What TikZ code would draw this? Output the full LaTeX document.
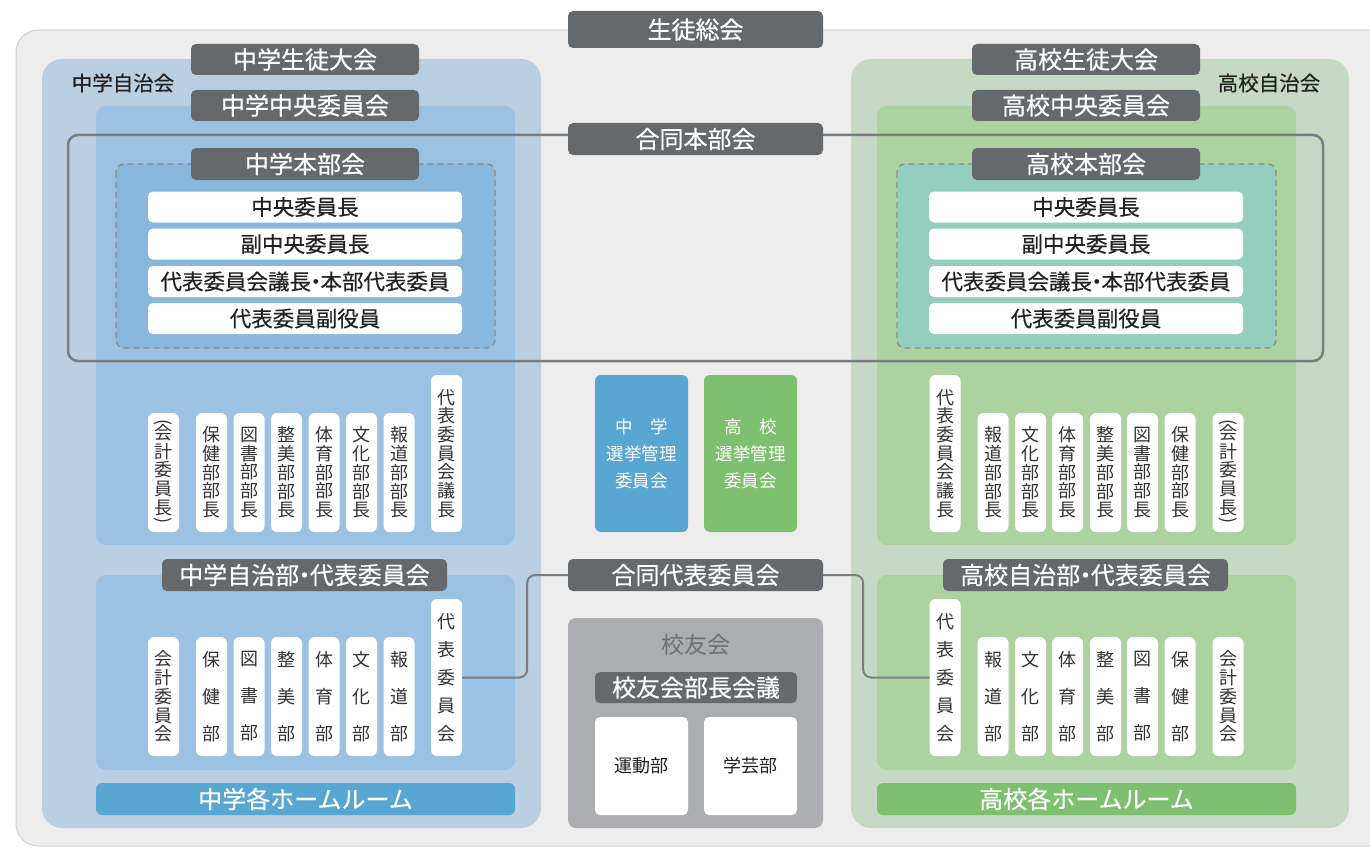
\documentclass[tikz,border=0pt]{standalone}
\usepackage{fontspec}
\usepackage{graphicx}
\newfontfamily\jp{Noto Sans CJK JP}
\newfontfamily\jpb[FakeBold=0.5]{Noto Sans CJK JP}
\definecolor{bgGray}{HTML}{EDEDED}
\definecolor{bgLine}{HTML}{D2D2D2}
\definecolor{bluOut}{HTML}{BBCFE2}
\definecolor{bluIn}{HTML}{9CC2E3}
\definecolor{bluDash}{HTML}{88B8DD}
\definecolor{bluHR}{HTML}{58A6D2}
\definecolor{grnOut}{HTML}{C6D9C4}
\definecolor{grnIn}{HTML}{ABD29F}
\definecolor{tealC}{HTML}{94CEBF}
\definecolor{grnHR}{HTML}{7EC06F}
\definecolor{lblDark}{HTML}{66696C}
\definecolor{koyuC}{HTML}{ACADB1}
\definecolor{koyuTxt}{HTML}{6E7074}
\definecolor{frameC}{HTML}{7A7E82}
\definecolor{dashC}{HTML}{8C8C8C}
\definecolor{txtDark}{HTML}{222222}
\definecolor{txtTag}{HTML}{333333}
\newcommand{\lpar}{\rotatebox[origin=c]{-90}{(}}
\newcommand{\rpar}{\rotatebox[origin=c]{-90}{)}}
\newcommand{\ndot}{\kern-0.28em・\kern-0.28em}
\tikzset{
  lbl/.style={fill=lblDark, text=white, rounded corners=5pt, inner sep=0pt, minimum height=31pt, font=\jpb\fontsize{24}{26}\selectfont},
  rowbox/.style={fill=white, text=txtDark, rounded corners=5pt, inner sep=0pt, minimum width=314pt, minimum height=31pt, font=\jpb\fontsize{21.5}{24}\selectfont},
  vtag/.style={fill=white, text=txtTag, rounded corners=6pt, inner sep=0pt, minimum width=31pt, minimum height=119pt, align=center, font=\jp\fontsize{18}{18.7}\selectfont},
  vtall/.style={vtag, minimum height=157pt},
  vsp/.style={font=\jp\fontsize{18}{37}\selectfont},
  vsp2/.style={font=\jp\fontsize{18}{28}\selectfont},
  senkyo/.style={rounded corners=6pt, inner sep=0pt, minimum width=93pt, minimum height=157pt, text=white, align=center, font=\jp\fontsize{17.5}{27}\selectfont},
  club/.style={fill=white, rounded corners=5pt, inner sep=0pt, minimum width=93pt, minimum height=98pt, text=txtDark, font=\jp\fontsize{18}{20}\selectfont},
  hr/.style={rounded corners=6pt, inner sep=0pt, minimum width=419pt, minimum height=32pt, text=white, font=\jpb\fontsize{24}{26}\selectfont},
  jichi/.style={text=txtDark, inner sep=0pt, font=\jpb\fontsize{20.5}{24}\selectfont},
  conn/.style={draw=frameC, line width=2pt, rounded corners=8pt},
}
\begin{document}
\begin{tikzpicture}[x=1pt,y=-1pt]
\useasboundingbox (0,0) rectangle (1370,848);
% outer background
\filldraw[fill=bgGray, draw=bgLine, line width=1pt, rounded corners=22pt] (16,30) rectangle (1420,846);
% junior high regions
\fill[bluOut, rounded corners=20pt] (42,59) rectangle (541,828);
\fill[bluIn, rounded corners=10pt] (96,106) rectangle (515,545);
\filldraw[fill=bluDash, draw=dashC, line width=1.3pt, dash pattern=on 6pt off 4pt, rounded corners=8pt] (116,164) rectangle (495,348);
\fill[bluIn, rounded corners=10pt] (96,575) rectangle (515,770);
% high school regions
\fill[grnOut, rounded corners=20pt] (851,59) rectangle (1349,828);
\fill[grnIn, rounded corners=10pt] (877,106) rectangle (1296,545);
\filldraw[fill=tealC, draw=dashC, line width=1.3pt, dash pattern=on 6pt off 4pt, rounded corners=8pt] (897,164) rectangle (1276,348);
\fill[grnIn, rounded corners=10pt] (877,575) rectangle (1296,770);
% joint headquarters frame
\draw[frameC, line width=2.5pt, rounded corners=10pt] (68,135) rectangle (1323,361);
% koyukai box
\fill[koyuC, rounded corners=8pt] (568,618) rectangle (823,828);

% top labels
\node[lbl, minimum width=255pt, minimum height=37pt] (sogo) at (695.5,29.5) {生徒総会};
\node[lbl, minimum width=228pt] (jtaikai) at (305,59.5) {中学生徒大会};
\node[lbl, minimum width=228pt] (jchuo) at (305,105.5) {中学中央委員会};
\node[lbl, minimum width=228pt, minimum height=32pt] (jhonbu) at (305,164) {中学本部会};
\node[lbl, minimum width=255pt, minimum height=32pt] (godohonbu) at (695.5,139) {合同本部会};
\node[lbl, minimum width=228pt] (htaikai) at (1086,59.5) {高校生徒大会};
\node[lbl, minimum width=228pt] (hchuo) at (1086,105.5) {高校中央委員会};
\node[lbl, minimum width=228pt, minimum height=32pt] (hhonbu) at (1086,164) {高校本部会};
\node[jichi] (jjichikai) at (123,83) {中学自治会};
\node[jichi] (hjichikai) at (1269,83) {高校自治会};

% rows
\node[rowbox] (jr1) at (305,207) {中央委員長};
\node[rowbox] (jr2) at (305,244) {副中央委員長};
\node[rowbox] (jr3) at (305,281.5) {代表委員会議長\ndot 本部代表委員};
\node[rowbox] (jr4) at (305,318.5) {代表委員副役員};
\node[rowbox] (hr1) at (1086,207) {中央委員長};
\node[rowbox] (hr2) at (1086,244) {副中央委員長};
\node[rowbox] (hr3) at (1086,281.5) {代表委員会議長\ndot 本部代表委員};
\node[rowbox] (hr4) at (1086,318.5) {代表委員副役員};

% junior high top tags
\node[vtag] (jt0) at (163.5,472.5) {\lpar\\[-7pt]会\\計\\委\\員\\長\\[-7pt]\rpar};
\node[vtag] (jt1) at (211.5,472.5) {保\\健\\部\\部\\長};
\node[vtag] (jt2) at (249,472.5) {図\\書\\部\\部\\長};
\node[vtag] (jt3) at (286.5,472.5) {整\\美\\部\\部\\長};
\node[vtag] (jt4) at (324,472.5) {体\\育\\部\\部\\長};
\node[vtag] (jt5) at (361.5,472.5) {文\\化\\部\\部\\長};
\node[vtag] (jt6) at (399,472.5) {報\\道\\部\\部\\長};
\node[vtall] (jt7) at (446.5,453.5) {代\\表\\委\\員\\会\\議\\長};

% high school top tags
\node[vtall] (ht7) at (945,453.5) {代\\表\\委\\員\\会\\議\\長};
\node[vtag] (ht6) at (993,472.5) {報\\道\\部\\部\\長};
\node[vtag] (ht5) at (1030.5,472.5) {文\\化\\部\\部\\長};
\node[vtag] (ht4) at (1067.5,472.5) {体\\育\\部\\部\\長};
\node[vtag] (ht3) at (1105.5,472.5) {整\\美\\部\\部\\長};
\node[vtag] (ht2) at (1142.5,472.5) {図\\書\\部\\部\\長};
\node[vtag] (ht1) at (1180,472.5) {保\\健\\部\\部\\長};
\node[vtag] (ht0) at (1228,472.5) {\lpar\\[-7pt]会\\計\\委\\員\\長\\[-7pt]\rpar};

% election committees
\node[senkyo, fill=bluHR] (jsenkyo) at (641.5,453.5) {中　学\\選挙管理\\委員会};
\node[senkyo, fill=grnHR] (hsenkyo) at (750.5,453.5) {高　校\\選挙管理\\委員会};

% bottom section labels
\node[lbl, minimum width=285pt, minimum height=32pt] (jjichibu) at (304.5,575) {中学自治部\ndot 代表委員会};
\node[lbl, minimum width=285pt, minimum height=32pt] (hjichibu) at (1085.5,575) {高校自治部\ndot 代表委員会};
\node[lbl, minimum width=255pt, minimum height=32pt] (gododai) at (695.5,575) {合同代表委員会};

% junior high bottom tags
\node[vtag] (jb0) at (163.5,696.5) {会\\計\\委\\員\\会};
\node[vtag, vsp] (jb1) at (211.5,696.5) {保\\健\\部};
\node[vtag, vsp] (jb2) at (249,696.5) {図\\書\\部};
\node[vtag, vsp] (jb3) at (286.5,696.5) {整\\美\\部};
\node[vtag, vsp] (jb4) at (324,696.5) {体\\育\\部};
\node[vtag, vsp] (jb5) at (361.5,696.5) {文\\化\\部};
\node[vtag, vsp] (jb6) at (399,696.5) {報\\道\\部};
\node[vtall, vsp2] (jdai) at (446.5,677.5) {代\\表\\委\\員\\会};

% high school bottom tags
\node[vtall, vsp2] (hdai) at (945,677.5) {代\\表\\委\\員\\会};
\node[vtag, vsp] (hb6) at (993,696.5) {報\\道\\部};
\node[vtag, vsp] (hb5) at (1030.5,696.5) {文\\化\\部};
\node[vtag, vsp] (hb4) at (1067.5,696.5) {体\\育\\部};
\node[vtag, vsp] (hb3) at (1105.5,696.5) {整\\美\\部};
\node[vtag, vsp] (hb2) at (1142.5,696.5) {図\\書\\部};
\node[vtag, vsp] (hb1) at (1180,696.5) {保\\健\\部};
\node[vtag] (hb0) at (1228,696.5) {会\\計\\委\\員\\会};

% homerooms
\node[hr, fill=bluHR] (jhr) at (305.5,799) {中学各ホームルーム};
\node[hr, fill=grnHR] (hhr) at (1086.5,799) {高校各ホームルーム};

% koyukai
\node[text=koyuTxt, inner sep=0pt, font=\jp\fontsize{23}{26}\selectfont] (koyu) at (695.5,645) {校友会};
\node[lbl, minimum width=202pt] (buchou) at (696,687.5) {校友会部長会議};
\node[club] (undo) at (641.5,766) {運動部};
\node[club] (gakugei) at (750.5,766) {学芸部};

% connectors
\draw[conn] (jdai.east) -- ++(65,0) |- (gododai.west);
\draw[conn] (gododai.east) -- ++(40,0) |- (hdai.west);
\end{tikzpicture}
\end{document}
